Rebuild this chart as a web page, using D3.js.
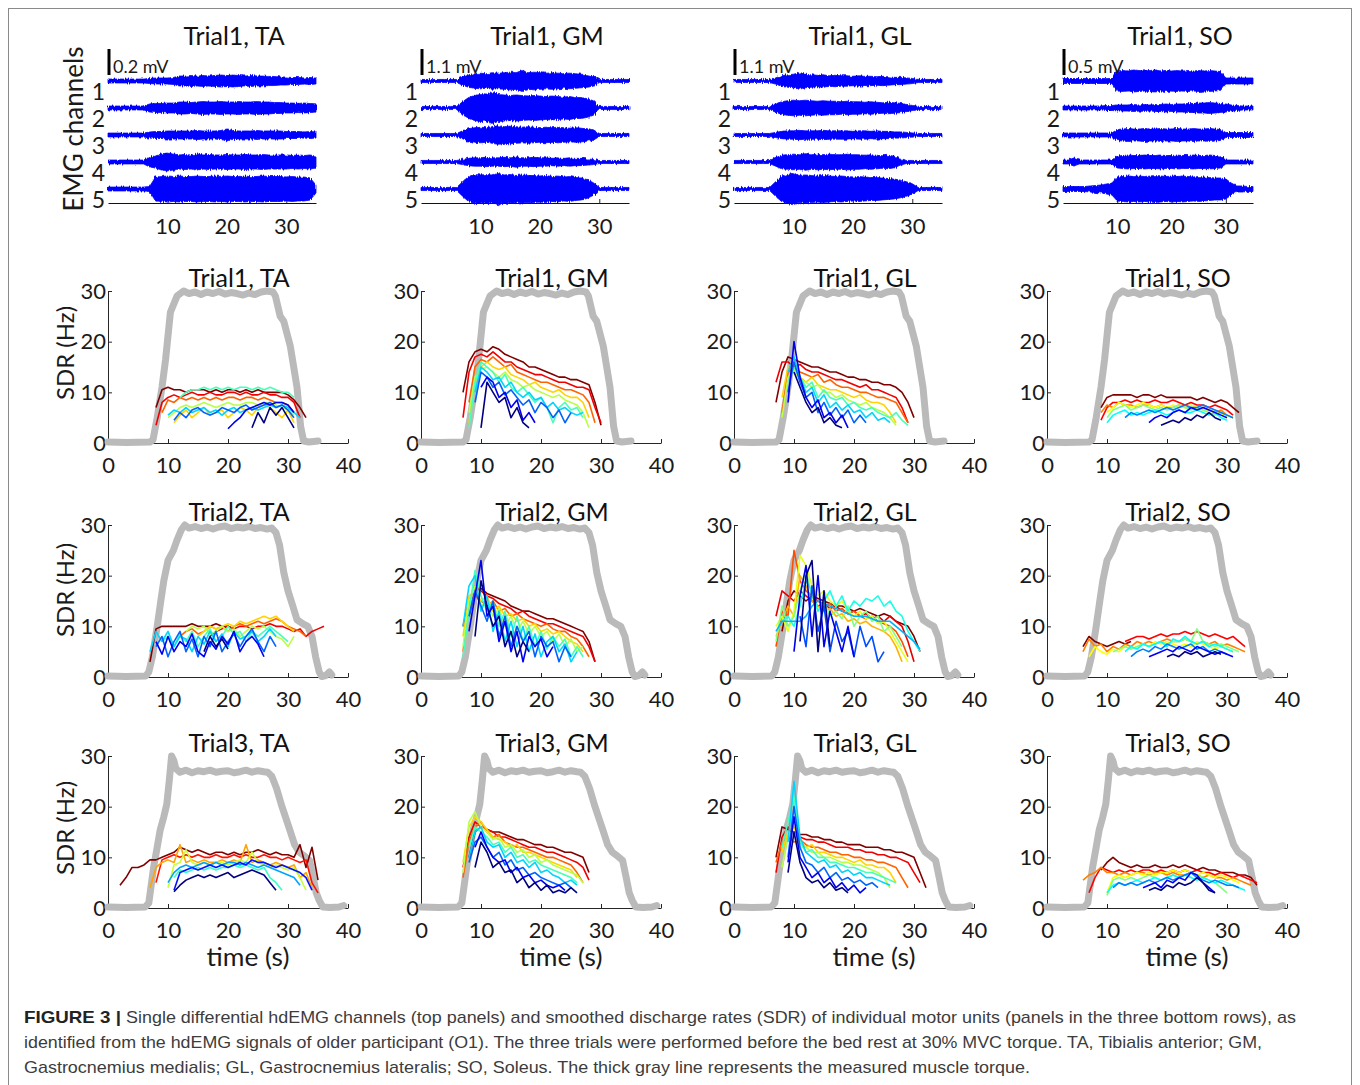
<!DOCTYPE html>
<html>
<head>
<meta charset="utf-8">
<script src="https://cdn.jsdelivr.net/npm/d3@7"></script>
<style>
  html, body { margin: 0; padding: 0; background: #ffffff; }
  svg { display: block; }
</style>
</head>
<body>
<svg id="fig" width="1360" height="1085"></svg>
<script>
// ---------------------------------------------------------------------------
// Labels and ticks
// ---------------------------------------------------------------------------
const muscles = ["TA", "GM", "GL", "SO"];
const trials = ["Trial1", "Trial2", "Trial3"];
const channels = [1, 2, 3, 4, 5];
const sdrXTicks = [0, 10, 20, 30, 40];
const sdrYTicks = [0, 10, 20, 30];
const emgXTicks = [10, 20, 30];
const scaleBarMV = [0.2, 1.1, 1.1, 0.5];          // scale bar of each EMG panel (mV)
const scaleBarText = ["0.2 mV", "1.1 mV", "1.1 mV", "0.5 mV"];

// ---------------------------------------------------------------------------
// EMG envelopes (half peak-to-peak amplitude, µV), one value per second, t = 0..35 s
// ---------------------------------------------------------------------------
const emgTA = [
  [15,15,15,15,15,15,15,19,23,23,23,27,38,38,42,38,42,38,42,46,42,46,42,38,42,38,38,35,35,31,31,27,27,23,27,23],
  [15,15,15,15,15,15,15,31,35,35,38,38,46,46,42,46,50,46,46,50,46,46,50,46,46,50,46,46,42,42,38,38,35,38,35,31],
  [15,15,15,15,15,15,15,23,27,27,31,31,31,31,31,35,31,31,31,35,46,35,31,31,31,35,31,31,31,31,27,27,27,23,27,23],
  [15,15,15,15,15,15,15,38,46,62,69,62,54,58,54,62,54,58,54,54,58,54,54,58,54,54,58,54,54,54,54,50,54,50,54,46],
  [15,15,15,15,15,15,15,19,92,96,100,96,100,96,96,100,96,96,100,96,100,96,96,100,96,96,100,96,96,96,92,96,92,92,85,31]
];
const emgGM = [
  [66,66,66,66,66,66,66,176,264,308,330,308,352,330,352,374,352,440,352,374,352,330,352,330,308,330,308,286,264,220,66,66,66,66,66,66],
  [66,66,66,66,66,66,66,264,440,528,572,550,660,572,550,528,550,528,506,528,506,484,506,484,462,484,440,440,396,308,66,66,66,66,66,66],
  [66,66,66,66,66,66,66,176,264,308,330,308,352,396,352,374,352,330,352,330,308,330,308,330,308,286,308,286,264,220,66,66,66,66,66,66],
  [66,66,66,66,66,66,66,110,154,176,176,198,176,176,198,176,220,176,176,198,176,176,154,176,154,176,154,154,132,110,66,66,66,66,66,66],
  [66,66,66,66,66,66,66,308,528,616,594,616,594,660,594,616,572,594,572,572,550,572,528,550,506,528,484,462,396,264,66,66,66,66,66,66]
];
const emgGL = [
  [66,66,66,66,66,66,66,132,220,264,286,352,286,264,242,264,220,242,220,220,198,220,198,198,176,198,176,154,154,132,110,66,66,66,66,66],
  [66,66,66,66,66,66,66,176,264,308,330,308,330,308,286,308,286,286,264,286,264,264,242,264,242,220,242,220,198,154,110,66,66,66,66,66],
  [66,66,66,66,66,66,66,110,154,176,176,198,176,176,176,198,176,176,176,176,154,176,176,154,176,154,154,132,132,110,88,66,66,66,66,66],
  [66,66,66,66,66,66,66,176,286,308,330,308,352,308,330,308,330,308,308,330,308,308,286,308,286,264,286,242,132,66,66,66,66,66,66,66],
  [66,66,66,66,66,66,66,308,528,616,660,572,594,572,550,572,550,528,550,528,506,528,506,484,484,462,440,418,374,308,220,66,66,66,66,66]
];
const emgSO = [
  [48,48,48,48,48,48,48,48,48,48,192,202,192,211,202,192,202,211,192,202,192,202,192,202,192,202,192,202,192,182,58,58,58,58,58,58],
  [38,38,38,38,38,38,38,38,48,48,58,58,58,67,58,67,58,67,67,77,67,77,77,86,86,96,96,106,96,86,77,58,48,38,38,38],
  [38,38,38,38,38,38,38,38,38,38,106,115,125,115,115,125,115,115,125,115,115,125,115,115,125,115,115,125,115,106,48,48,48,48,48,48],
  [38,38,77,38,38,38,38,38,38,38,115,125,134,125,125,134,125,125,134,125,125,134,125,125,134,125,125,134,125,115,38,38,38,38,38,38],
  [48,48,48,48,48,58,67,77,96,115,230,240,250,240,250,240,250,259,250,240,250,240,250,240,230,240,230,221,211,211,192,115,58,58,48,48]
];

// ---------------------------------------------------------------------------
// Measured torque of each trial, [time (s), torque (scaled to the SDR axis)]
// ---------------------------------------------------------------------------
const torqueT1 = [[0,0.2],[3,0.1],[7,0.2],[7.5,0.6],[8.2,5],[9,11],[9.6,16.5],[10.4,25.8],[11.5,29],[12.6,30],[13.5,29.5],[14.5,29.8],[15.5,29.3],[16.5,29.8],[17.5,29.5],[18.5,29.9],[19.5,29.4],[20.5,29.7],[21.5,29.5],[22.5,29.2],[23.5,29.6],[24.5,29.3],[25.5,29.8],[26.5,30],[27.5,29.8],[27.9,29],[28.7,25],[29.3,24],[30.4,19],[31.5,11],[32.1,3.3],[32.6,0.4],[33.5,0.2],[35,0.4]];
const torqueT2 = [[0,0.2],[3,0.1],[6.3,0.2],[6.8,1],[7.4,4],[8.2,10],[8.8,15],[9.3,19],[10,23],[10.9,25],[11.5,27],[12.2,29],[12.8,30],[13.5,29.4],[14.5,29.7],[15.5,29.3],[16.5,29.6],[17.5,29.2],[18.5,29.6],[19.5,29.8],[20.5,29.3],[21.5,29.6],[22.5,29.4],[23.5,29.7],[24.5,29.3],[25.5,29.5],[26.5,29.2],[27.3,29.4],[28,28.5],[28.6,26],[29.3,20.6],[30,17],[30.8,14],[31.5,11.3],[32.5,10.5],[33.3,10],[34,8],[34.6,4],[35.2,1],[35.6,0.1],[36.3,0.3],[36.9,1],[37.3,0.4]];
const torqueT3 = [[0,0.2],[3,0.1],[6.2,0.2],[6.8,1],[7.6,8],[8.2,12],[8.7,15.4],[9.3,18],[9.8,20.5],[10.2,25],[10.6,30],[11,29],[11.3,27.5],[12,26.8],[13,27.2],[14,26.7],[15,27.1],[16,26.9],[17,27.2],[18,26.8],[19,27],[20,27.1],[21,26.7],[22,26.9],[23,27.2],[24,26.8],[25,27.1],[26,26.9],[26.6,26.8],[27.3,26],[28.1,23.6],[29,20],[30.3,15.4],[31.1,12.5],[31.9,11],[32.8,10.2],[33.6,9.4],[34.2,6],[34.7,3],[35.2,1.5],[35.8,0.2],[37,0.1],[38.5,0.2],[39.3,0.5]];

// ---------------------------------------------------------------------------
// Smoothed discharge rates (Hz) of the motor units: [start time (s), one value per second]
// Units are listed from the first (dark red) to the last (dark blue) identified.
// ---------------------------------------------------------------------------
const muT1TA = [
  [8, [7,10.5,11,10.5,10.5,10,10.5,10.5,10.5,10,10.5,10,10.5,10.5,10,10.5,10,10.5,10,10,10,10,9.5,8.5,7,5]],
  [8, [3.5,8,9,9.5,9,9.5,10,9.5,9.5,10,9.5,9.5,10,10,9.5,10,9.5,9.5,10,9.5,9.5,9,9,8,5]],
  [9, [6,8.5,8,9,8.5,9,8.5,9,8.5,9,8.5,9,9,8.5,9,9,8.5,9,8.5,8,8,7.5,6]],
  [11, [4,5.5,6.5,5,6,7,5.5,6,6.5,5,6,7,6.5,5.5,7,7.5,7,6,5,6.5,4]],
  [10, [5,6,7,7.5,7,7.5,8,7.5,7,7.5,8,7.5,7.5,8,8,7.5,8,8,7.5,7,6.5,5.5]],
  [12, [9,10,10.5,10.5,11,10.5,11,10.5,11,10.5,11,11,10.5,11,10.5,11,10.5,10,10,9]],
  [10, [5.5,6.5,6,7,6,6.5,7,6,6.5,5.5,6.5,7,6,6.5,7,6.5,7,7.5,7,7.5,7,6,5]],
  [11, [4.5,6,5,6.5,7,6,5.5,6,7,6.5,6,7,7.5,6.5,7,7.5,8,7,7.5,6.5,5]],
  [20, [2.8,4,5,6.5,7,7.5,8,7.5,8,8,7.5,6]],
  [24, [3,6,4,7,5.5,7,5,3]]
];
const muT1GM = [
  [7, [10,16,18,18.5,18,19,18.5,17.5,17,16.5,16,15,15,14.5,14,13.5,13,13,12.5,12.5,12,11.5,8,3.5]],
  [7, [5,14,17,17.5,17,18,17,16,16,15,14.5,14,13.5,13.5,13,12.5,12,12,11.5,11,11,10.5,7,4]],
  [8, [8,15,16.5,16,17,16,15,15.5,14,13.5,13,12.5,12,12,11.5,11,10.5,10.5,10,9.5,8,4]],
  [8, [4,12,15,16,15,14.5,15,13.5,13,12.5,11.5,12,11,10.5,10,10.5,9.5,9,9,8,5]],
  [8, [6,13,14.5,15,14,13,14,12.5,12,11,11.5,10.5,10,9.5,9,9.5,8.5,8,7.5,6,3]],
  [8, [3,12,16,15,14,12,13.5,11,10,11,9.5,8,9,7,4,7,8,6.5,7,5]],
  [9, [10,15,14,12.5,13,11,12,10,9,10,8.5,9,7,8,6.5,7,6,5.5,6]],
  [9, [8,14,13,11,12,9.5,10.5,9,7.5,8.5,6,8,7,5,6.5,4,6]],
  [10, [11,13,12,9,10,7,8.5,4.5,6,4]],
  [10, [3,12,10,8,9,5,7,4,3]]
];
const muT1GL = [
  [7, [8,14,17,16.5,16,15.5,15,15,14.5,14,14,13.5,13,13,12.5,12.5,12,12,11.5,11.5,11,10,8,5]],
  [7, [12,16,16,15,15.5,14.5,14,14,13.5,13,12.5,12.5,12,11.5,11,11.5,10.5,10.5,10,9.5,9,7,4]],
  [8, [6,14,15,14,13.5,13,13.5,12,12.5,11.5,11,11,10.5,10,10,9.5,9,9,8.5,8,6,4]],
  [8, [9,15,14,13,12,13,11.5,11,10.5,10.5,10,9.5,9,9.5,8.5,8,8,7.5,6,4]],
  [8, [5,13,14.5,12.5,12,11,11.5,10,10,9,9.5,8.5,8,7.5,8,7,6.5,6,5,3.5]],
  [9, [12,15,13,11,12,9,10.5,9,8.5,9,7.5,8,7,6.5,7,6,5.5,5,6,4.5,3.5]],
  [9, [14,17,13,10,11,8,9.5,7,8,6.5,7.5,6,6.5,5,6,4.5,5,4]],
  [9, [10,16,12,9,10,6,8,5.5,7,5,6.5,4,5.5,4]],
  [9, [8,20,13,9,7,8.5,5,6,4,5.5,3]],
  [10, [14,11,8,6,7,4,5,3.5,3]]
];
const muT1SO = [
  [9, [7,9,9.5,9.5,9.5,9.5,9,9.5,9.5,9,9.5,9,9,9,9,9,8.5,9,8.5,8,8.5,8,7,6]],
  [9, [4.5,7,8,8,8.5,8,8.5,8,8,8.5,8,8,8.5,8,7.5,8,7.5,7.5,7,7.5,7,6.5,5.5]],
  [9, [6,7.5,7,8,7.5,7.5,7,7.5,7.5,7,7.5,7,7,7.5,7,7,6.5,7,6.5,6,6.5,5.5,5]],
  [10, [6,7,8,7.5,7,7.5,8,7.5,7,7.5,7,7.5,7,7,7.5,7,6.5,6.5,6,6,5]],
  [10, [5,6.5,7,7.5,6.5,7,7.5,7,6.5,7,6.5,7,7.5,7,6.5,7,6.5,6,5.5,6,5.5,5]],
  [10, [4,5.5,6,6.5,5.5,6,5.5,6,6.5,6,5.5,6,6.5,6,6,6.5,6,5.5,6,5,4.5]],
  [13, [5,6,5.5,6,6.5,6,6.5,7,6.5,7,7.5,7,7,7.5,7,6.5,6,5.5,5]],
  [17, [4,5,5.5,5,6,6.5,6,7,6.5,7,6.5,6,5.5,5]],
  [19, [3.5,4,4.5,4,5,4.5,5.5,5,6,5,4.5]]
];
const muT2TA = [
  [7, [3,9.5,10,10,10,10,10,10.5,10,10,10,10.5,10,10,9.5]],
  [17, [8,9,9.5,10,9.5,10,10,9.5,10,10,10.5,10,10,9.5,9,9.5,8,9,9.5,10]],
  [12, [8,9,9.5,8.5,9,10,9.5,10,9,10,10.5,10,10.5,11,10.5,11,11.5,11,10,9.5,9,8]],
  [15, [8,9,10,9.5,10,10.5,10,11,10.5,11,11.5,12,11.5,12,11,10,9]],
  [13, [9,10,9.5,10,8.5,9,10,9,9.5,8,9,10,9.5,10,9,8,7.5,6,8]],
  [9, [7,8,6,8.5,7,9,6,8,9.5,7,8,10,8.5,9,7,9,8,9,10,9,8,7]],
  [7, [5,9,7,9,6,8,7.5,5,8,6.5,9,7,8.5,6,9,7.5,8,9,7,8,9.5,8]],
  [8, [6,8,4,7,9,5,7.5,4,8,6,9,5,7,8.5,6,8,9.5,7,5,8,6]],
  [8, [7,4.5,8,5,7,6,8.5,5,4,7,5.5,8,6.5,9,5,7,8,6.5,4]],
  [16, [5,8,6,7.5,5.5]]
];
const muT2GM = [
  [8, [12,17,17.5,16.5,16,15.5,15,14,13.5,13,13,12.5,12,11.5,11.5,11,10.5,10,9.5,9,7,3]],
  [7, [10,15,18,17,16,15.5,14.5,14,13.5,12.5,13,12,11.5,11,10.5,10.5,10,9.5,9,8.5,8,6,3]],
  [7, [5,14,16,15,14,15,13,13.5,12,12.5,11.5,11,10.5,10,10.5,9.5,9,9,8,7.5,6,4]],
  [7, [8,16,17,15,16,13,14,12,12.5,11,11.5,10,10.5,9,9.5,8.5,9,8,7,6.5,5]],
  [7, [6,15,18,14,15,12,13.5,10,12,9,11,8.5,10,8,9,7,8.5,6,7.5,5,6]],
  [7, [4,13,21,16,13,15,10,13,8,12,7,10,6,9,5.5,8,6,7.5,4,6,4]],
  [7, [10,18,20,13,16,9,13,7,11,6,10,5,8.5,4,7,8,5,6.5,3,5]],
  [8, [12,17,14,11,15,8,12,6,10,7,9,4,8,6,7,3,6,4]],
  [8, [9,16,23,12,14,7,11,5,9,3,8,6,7.5,4,6]],
  [9, [8,19,14,10,12,6,9,4,7,5]]
];
const muT2GL = [
  [8, [9,15,17,16,15,16,15.5,15,14.5,14,14,13.5,13,13.5,13,12.5,12,12.5,12,11,10.5,10,8,5]],
  [7, [12,17,16,15,17,16,15,14,14.5,13.5,14,13,12.5,13,12,12.5,11.5,12,11,12,11,10,7,3]],
  [7, [6,13,12,25,19,17,16,15,14,14.5,13,13.5,12.5,13,12,11.5,12,11,10.5,10,9,7,4]],
  [7, [8,11,14,12,20,18,15,14,13,13.5,12,12.5,11,11.5,10.5,11,10,9.5,9,8,6,3]],
  [7, [10,12,9,13,24,22,18,16,17,15,14,15,13,12,13,11.5,12,10.5,11,9,7,5,3]],
  [7, [7,14,10,12,17,21,16,13,15,12,13,11.5,14,10,12,13,11,12,9,10,8,6]],
  [8, [11,12,10,14,19,17,13,15,17,14,16,13,15,14,15.5,15,16,14,15,13,12,9,7,5]],
  [7, [9,11,11,11,11,12,14,15,14.5,14,13.5,13,12.5,12,12,12,11.5,11,11,11,10,9,8,7,5.5]],
  [11, [12,6,18,9,14,5,11,7,9,4,10,6,8,3,5]],
  [10, [5,16,22,8,20,6,13,9,5,10,4]],
  [11, [7,20,23,5,17,6]]
];
const muT2SO = [
  [6, [6,8,7,6.5,6,6.5,7,6.5,7]],
  [13, [7,7.5,8,8,7.5,8,8.5,8,8.5,8.5,9,8.5,9,8.5,8,8.5,8,7.5,8,7,6]],
  [6, [5,7.5,6,6.5,5,6,5.5,6.5,6,7,6.5,7,6.5,7,7.5,7,7,7.5,7,6.5,7,6.5,7,6,6.5,6,5.5,5]],
  [7, [4,6,5,4.5,5.5,5,6,5.5,6,6.5,6,7,6.5,7,6.5,6,6.5,6,7,6.5,6,5.5,6,5.5,5]],
  [11, [5,5.5,6,5.5,6,6.5,6,6.5,7,6.5,7,7,7.5,7,9.5,7,6.5,6,6.5,6,5.5,5]],
  [13, [5,6,5.5,6.5,6,6.5,7,6,7.5,7,8,7,6.5,7,6,6.5,6,5.5,5]],
  [14, [4,5,5.5,5,6,5.5,6.5,6,5.5,6,6.5,5.5,6,5,5.5,5,4.5]],
  [17, [4,4.5,5,5.5,5,6,5.5,5,6,5.5,5,4.5,5,4.5,4]],
  [20, [4,4.5,4,5,4.5,5,4,4.5,5,4.5]]
];
const muT3TA = [
  [2, [4.5,6,8,8,8.5,9.5,9.5,10,10.5,11,12,11.5,11,11.5,11,10.5,11,11,10.5,11,10.5,11,11,11.5,11,10.5,11,10.5,10.5,10,12.5,8,12,5.5]],
  [8, [5,9.5,10,10.5,10,10.5,10,10.5,10,10,10.5,10,10,10.5,10,10.5,10,10,10.5,10,10,9.5,10,9.5,9,9.5,5,3]],
  [7, [4,8,9,9.5,9,12.5,9,9.5,9,9.5,9,9,9.5,9,9.5,9,12.5,9,9.5,9,8.5,9,8.5,8,8.5,6,7,4]],
  [10, [4,8.5,9,11.5,9,8.5,9,8.5,9,9,8.5,9,9.5,9,11,9,8.5,8,8.5,8,7.5,8,6,3.5]],
  [11, [6,7.5,7,7.5,8,7.5,8,7.5,8,8,8.5,8,8.5,8,7.5,8,6,5,3.5]],
  [10, [5,7,8,8.5,8,8.5,9,8.5,9,8.5,9,9,8.5,9,8.5,8,8.5,8,7.5,7,6.5,6,4.5]],
  [11, [3.5,7,7.5,8,7.5,8,8.5,8,8.5,8,8.5,9,8.5,9.5,9,9,8.5,8,8.5,8,7.5,7,6,3.5]],
  [11, [3.2,4.5,5.5,6,6.5,6,6.5,6,6.5,7,6,6.5,7,7.5,7,6.5,5,3.5]]
];
const muT3GM = [
  [8, [10,15,16,15.5,15,15,14.5,14,13.5,13.5,13,12.5,12.5,12,12,11.5,11,11,10.5,10,7]],
  [7, [8,14,17,16,15.5,15,14,14,13.5,13,12.5,12,12,11.5,11,11,10.5,10,9.5,9,8,5.5]],
  [7, [6,13,16,17,15,14,14.5,13,12.5,12,12,11.5,11,10.5,10,10,9.5,9,8.5,7,5]],
  [7, [9,16,18,17,15.5,14,13.5,13,12,12.5,11,11,10.5,10,9.5,9,8.5,8,7.5,6]],
  [7, [7,17,19,16,15,13.5,14,12,12.5,11,11.5,10,10.5,9,9.5,8.5,8,7.5,7,6.5,5]],
  [8, [12,16,15,14,12.5,13,11,12,10,10.5,9,9.5,8.5,8,7.5,7,6.5,6,5]],
  [8, [10,15,16,13,12,12.5,10,11,9,9.5,8,9,7,7.5,6.5,6,5,5.5,4.5]],
  [8, [9,13,14,12,10,11,8.5,9.5,7.5,8,6.5,7,6,5.5,5,4.5,5,4]],
  [9, [12,15,12,10,9,9.5,7,8,6,6.5,5,5.5,4.5,4,4.5,3.5]],
  [9, [8,13,11,8,9,7,7.5,5,6,4,5,3.5,4.5,3,3.5,3,4,3]]
];
const muT3GL = [
  [7, [10,16,15.5,15,14.5,14.5,14,14,13.5,13.5,13,13,12.5,12.5,12.5,12,12,12,11.5,11.5,11,11,10.5,10,7,4]],
  [7, [7,14,16,14.5,14,13.5,13.5,13,13,12.5,12,12,12,11.5,11.5,11,11,10.5,10.5,10,10,9.5,9,7,5]],
  [7, [9,13,14,13,13.5,12.5,12,12,11.5,11,11,10.5,10.5,10,10,9.5,9.5,9,9,8.5,8,6,4]],
  [8, [11,15,16,13,12,12.5,11,11,10.5,10,10,9.5,9,9.5,8.5,8.5,8,8,7,5]],
  [8, [8,14,15,12,12,11,11,10,10,9.5,9,9,8.5,8.5,8,7.5,7,6,4]],
  [8, [12,17,22,13,11,11.5,10,10,9,9,8.5,8,8,7.5,7,7,6.5,6,5.5,5]],
  [9, [13,25,14,11,10,9,9.5,8,8.5,7,7.5,6.5,7,6,6,5.5,5,4.5]],
  [9, [10,20,12,9,8.5,7,8,6,7,5.5,6,5,5.5,4.5,5,4]],
  [9, [9,18,10,8,6,7,5,6,4,5,3.5,4.5,3,4]],
  [9, [7,15,9,6,5,5.5,4,5,3.5,4,3]]
];
const muT3SO = [
  [9, [7.5,9,10,9,8.5,8,8.5,8,8,8.5,8,8,8.5,8,8.5,8,7.5,8,7.5,7.5,7,7,7,6.5,6.5,6,4.5]],
  [7, [3,6,8,7.5,7,7.5,7,7.5,7,7.5,7.5,7,7.5,7,7.5,7,7.5,7,7.5,7,7,6.5,7,6.5,6,6.5,6,5.5,5]],
  [6, [5.5,6.5,7,8,7,7,6.5,7,6.5,7,7,6.5,7,7,6.5,7,6.5,6.5,7,6.5,6,6.5,6,6,5.5,6,5.5,5,4.5]],
  [10, [3,6,6.5,6,6.5,7,6.5,7,6.5,7,7,7.5,7,7.5,7,6.5,7,6.5,6,6.5,6,5.5,5]],
  [10, [2.5,5.5,6,5.5,6,5.5,6,6.5,6,5.5,6,6.5,6,6.5,7,6.5,6,5.5,5,4,3]],
  [10, [3,4.5,5,4.5,5,5.5,5,5.5,6,5.5,6,6.5,6,6.5,6,5.5,6,5.5,5,5.5,5,4.5,4,3.5]],
  [11, [4,5,4.5,5,4.5,5,5.5,5,5.5,6,5.5,6,6.5,7,6,5.5,5,5.5,5,4.5,4.5,4]],
  [16, [4,4.5,5,4,5.5,5,6,5.5,7,6.5,5,4,3]],
  [17, [3.5,4,3.5,4.5,4,5,4.5,5,6,5,3.5,3]]
];

const emgByMuscle = [emgTA, emgGM, emgGL, emgSO];
const torqueByTrial = [torqueT1, torqueT2, torqueT3];
const unitsByTrial = [
  [muT1TA, muT1GM, muT1GL, muT1SO],
  [muT2TA, muT2GM, muT2GL, muT2SO],
  [muT3TA, muT3GM, muT3GL, muT3SO]
];

const captionBold = "FIGURE 3 |";
const captionLines = [
  "Single differential hdEMG channels (top panels) and smoothed discharge rates (SDR) of individual motor units (panels in the three bottom rows), as",
  "identified from the hdEMG signals of older participant (O1). The three trials were performed before the bed rest at 30% MVC torque. TA, Tibialis anterior; GM,",
  "Gastrocnemius medialis; GL, Gastrocnemius lateralis; SO, Soleus. The thick gray line represents the measured muscle torque."
];

// ---------------------------------------------------------------------------
// Layout
// ---------------------------------------------------------------------------
const FONT = "Lato, 'Noto Sans', sans-serif";
const CAPFONT = "'Liberation Sans Narrow', 'Liberation Sans', Arial, sans-serif";
const AXC = "#262626";
const TXT = "#1a1a1a";
const TICK_FS = 22;
const TITLE_FS = 25;

const sdrX0 = [108, 421, 734, 1047];
const sdrW = 240;                 // 0..40 s
const sdrY0 = [443, 677, 908];
const sdrH = 152;                 // 0..30 Hz
const sdrLabelY = [353, 590, 828];

const emgX0 = [108, 421, 734, 1063];
const emgW = [208, 208, 208, 190]; // 0..35 s
const emgSpan = 35;
const emgAxisY = 203;
const barLen = 26;

const svg = d3.select("#fig");

// texture for the raw EMG traces (dense discharge spikes along the band edges)
const defs = svg.append("defs");
const flt = defs.append("filter").attr("id", "emgTexture")
  .attr("x", "-2%").attr("y", "-60%").attr("width", "104%").attr("height", "220%");
flt.append("feTurbulence")
  .attr("type", "fractalNoise").attr("baseFrequency", "0.85 0.06")
  .attr("numOctaves", 1).attr("seed", 7).attr("result", "tex");
flt.append("feDisplacementMap")
  .attr("in", "SourceGraphic").attr("in2", "tex")
  .attr("scale", 4.5).attr("xChannelSelector", "B").attr("yChannelSelector", "R");

// figure frame
svg.append("rect")
  .attr("x", 8.5).attr("y", 8.5)
  .attr("width", 1343).attr("height", 1095)
  .attr("fill", "none").attr("stroke", "#8a8a8a").attr("stroke-width", 1);

const jet = d3.scaleLinear()
  .domain([0, 0.125, 0.375, 0.625, 0.875, 1])
  .range(["#000080", "#0000ff", "#00ffff", "#ffff00", "#ff0000", "#800000"]);

function styleAxis(g) {
  g.attr("font-family", FONT).attr("font-size", TICK_FS);
  g.select(".domain").attr("stroke", AXC).attr("stroke-width", 1);
  g.selectAll(".tick line").attr("stroke", AXC).attr("stroke-width", 1);
  g.selectAll(".tick text").attr("fill", TXT);
}

// ---------------------------------------------------------------------------
// Top row: EMG channels
// ---------------------------------------------------------------------------
const chY = d3.scaleLinear().domain([1, 5]).range([81, 189]);

muscles.forEach((m, j) => {
  const x = d3.scaleLinear().domain([0, emgSpan]).range([emgX0[j], emgX0[j] + emgW[j]]);
  const amp = d3.scaleLinear().domain([0, scaleBarMV[j] * 1000]).range([0, barLen]);
  const g = svg.append("g").attr("class", "emg-panel");

  g.append("g")
    .attr("transform", `translate(0,${emgAxisY})`)
    .call(d3.axisBottom(x).tickValues(emgXTicks).tickSizeInner(-4).tickSizeOuter(0).tickPadding(15))
    .call(styleAxis)
    .call(a => a.select(".domain").attr("stroke", "#111"));

  const bands = g.append("g").attr("filter", "url(#emgTexture)");
  channels.forEach((c, k) => {
    const base = chY(c);
    const env = emgByMuscle[j][k];
    const area = d3.area()
      .x((d, i) => x(i))
      .y0(d => base + amp(d))
      .y1(d => base - amp(d));
    bands.append("path").datum(env)
      .attr("d", area)
      .attr("fill", "#0000ff")
      .attr("stroke", "#0000ff")
      .attr("stroke-width", 0.8);
    g.append("text")
      .attr("x", emgX0[j] - 3)
      .attr("y", base + 10.5)
      .attr("dy", "0.35em")
      .attr("text-anchor", "end")
      .attr("font-family", FONT).attr("font-size", 23)
      .attr("fill", TXT)
      .text(c);
  });

  // amplitude scale bar
  const barBottom = 75;
  g.append("line")
    .attr("x1", emgX0[j] + 1).attr("x2", emgX0[j] + 1)
    .attr("y1", barBottom).attr("y2", barBottom - amp(scaleBarMV[j] * 1000))
    .attr("stroke", "#000").attr("stroke-width", 3);
  g.append("text")
    .attr("x", emgX0[j] + 5).attr("y", barBottom - 2)
    .attr("font-family", FONT).attr("font-size", 18)
    .attr("fill", TXT)
    .text(scaleBarText[j]);

  g.append("text")
    .attr("x", emgX0[j] + emgW[j] / 2 + 22).attr("y", 45)
    .attr("text-anchor", "middle")
    .attr("font-family", FONT).attr("font-size", TITLE_FS)
    .attr("fill", "#111")
    .text(`${trials[0]}, ${m}`);
});

svg.append("text")
  .attr("transform", "translate(74,129) rotate(-90)")
  .attr("text-anchor", "middle").attr("dy", "0.35em")
  .attr("font-family", FONT).attr("font-size", 26).attr("fill", TXT)
  .text("EMG channels");

// ---------------------------------------------------------------------------
// Discharge-rate rows
// ---------------------------------------------------------------------------
trials.forEach((tr, r) => {
  muscles.forEach((m, j) => {
    const x = d3.scaleLinear().domain([0, 40]).range([sdrX0[j], sdrX0[j] + sdrW]);
    const y = d3.scaleLinear().domain([0, 30]).range([sdrY0[r], sdrY0[r] - sdrH]);
    const g = svg.append("g").attr("class", "sdr-panel");

    g.append("g")
      .attr("transform", `translate(0,${sdrY0[r]})`)
      .call(d3.axisBottom(x).tickValues(sdrXTicks).tickSizeInner(-4).tickSizeOuter(0).tickPadding(14))
      .call(styleAxis);
    g.append("g")
      .attr("transform", `translate(${sdrX0[j]},0)`)
      .call(d3.axisLeft(y).tickValues(sdrYTicks).tickSizeInner(-4).tickSizeOuter(0).tickPadding(2))
      .call(styleAxis);

    // torque
    const line = d3.line().x(d => x(d[0])).y(d => y(d[1]));
    g.append("path").datum(torqueByTrial[r])
      .attr("d", line)
      .attr("fill", "none")
      .attr("stroke", "#bababa")
      .attr("stroke-width", 7)
      .attr("stroke-linejoin", "round")
      .attr("stroke-linecap", "round");

    // motor units
    const units = unitsByTrial[r][j];
    const n = units.length;
    units.forEach((u, i) => {
      const pts = u[1].map((v, k) => [u[0] + k, v]);
      g.append("path").datum(pts)
        .attr("d", line)
        .attr("fill", "none")
        .attr("stroke", jet(1 - i / (n - 1)))
        .attr("stroke-width", 1.6)
        .attr("stroke-linejoin", "round");
    });

    g.append("text")
      .attr("x", sdrX0[j] + 131).attr("y", y(30) - 4)
      .attr("text-anchor", "middle")
      .attr("font-family", FONT).attr("font-size", TITLE_FS)
      .attr("fill", "#111")
      .text(`${tr}, ${m}`);

    if (j === 0) {
      g.append("text")
        .attr("transform", `translate(66,${sdrLabelY[r]}) rotate(-90)`)
        .attr("text-anchor", "middle").attr("dy", "0.35em")
        .attr("font-family", FONT).attr("font-size", 24).attr("fill", TXT)
        .text("SDR (Hz)");
    }
    if (r === trials.length - 1) {
      g.append("text")
        .attr("x", sdrX0[j] + 140).attr("y", 966)
        .attr("text-anchor", "middle")
        .attr("font-family", FONT).attr("font-size", 25).attr("fill", TXT)
        .attr("textLength", 83).attr("lengthAdjust", "spacingAndGlyphs")
        .text("time (s)");
    }
  });
});

// ---------------------------------------------------------------------------
// Caption
// ---------------------------------------------------------------------------
const cap = svg.append("g").attr("font-family", CAPFONT).attr("font-size", 17).attr("fill", "#3c3c3c");
cap.append("text")
  .attr("x", 24).attr("y", 1023)
  .attr("font-weight", "bold").attr("fill", "#222")
  .attr("textLength", 97).attr("lengthAdjust", "spacingAndGlyphs")
  .text(captionBold);
const capEnds = [1296, 1262, 1030];
captionLines.forEach((t, i) => {
  const x0 = i === 0 ? 126 : 24;
  cap.append("text")
    .attr("x", x0).attr("y", 1023 + i * 25)
    .attr("textLength", capEnds[i] - x0).attr("lengthAdjust", "spacingAndGlyphs")
    .text(t);
});
</script>
</body>
</html>
